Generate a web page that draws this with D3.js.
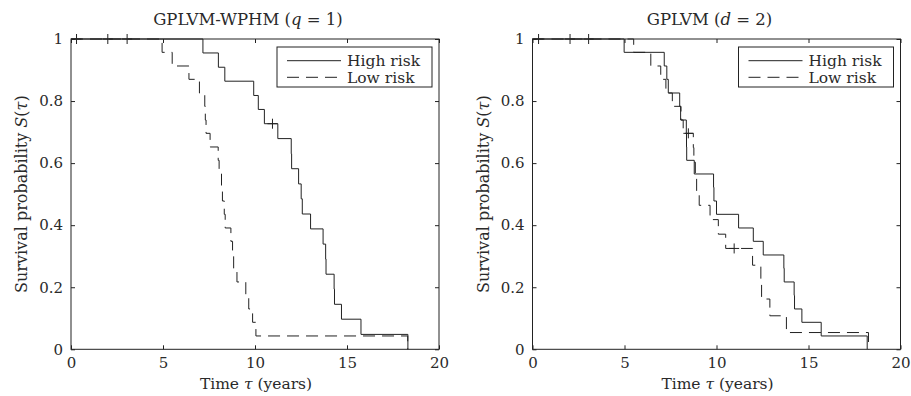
<!DOCTYPE html>
<html>
<head>
<meta charset="utf-8">
<script src="https://cdn.jsdelivr.net/npm/d3@7"></script>
<style>
  body { margin: 0; background: #fff; }
  text { font-family: "DejaVu Serif", "Liberation Serif", serif; fill: #2a2a2a; }
</style>
</head>
<body>
<svg id="chart" width="911" height="396"></svg>
<script>
// tick values
const timeTicks = [0, 5, 10, 15, 20];
const probTicks = [0, 0.2, 0.4, 0.6, 0.8, 1];
const legendLabels = ["High risk", "Low risk"];

// GPLVM-WPHM (q = 1)
const wphmHighTime = [0, 7.17, 8.01, 8.36, 9.93, 10.18, 10.51, 11.24, 11.97, 11.99, 12.37, 12.51, 12.57, 13.02, 13.70, 13.84, 13.86, 14.30, 14.32, 14.70, 15.76, 18.31];
const wphmHighSurv = [1, 0.955, 0.909, 0.864, 0.818, 0.773, 0.727, 0.679, 0.630, 0.582, 0.533, 0.485, 0.436, 0.388, 0.339, 0.291, 0.242, 0.194, 0.145, 0.097, 0.048, 0];
const wphmLowTime = [0, 4.95, 5.50, 6.41, 6.98, 7.27, 7.30, 7.34, 7.56, 8.00, 8.05, 8.18, 8.23, 8.33, 8.38, 8.69, 8.78, 8.84, 9.02, 9.50, 9.66, 9.87, 10.05, 18.30];
const wphmLowSurv = [1, 0.957, 0.913, 0.870, 0.826, 0.783, 0.739, 0.696, 0.652, 0.609, 0.565, 0.522, 0.478, 0.435, 0.391, 0.348, 0.304, 0.261, 0.217, 0.174, 0.130, 0.087, 0.043, 0];
const wphmCensorTime = [0.3, 2.0, 3.05, 10.95];
const wphmCensorSurv = [1, 1, 1, 0.727];

// GPLVM (d = 2)
const gplvmHighTime = [0, 4.98, 7.16, 7.30, 7.38, 8.00, 8.05, 8.36, 8.37, 8.38, 8.79, 9.84, 9.86, 10.00, 11.20, 12.00, 12.54, 13.66, 13.68, 14.22, 14.24, 14.64, 15.69, 18.19];
const gplvmHighSurv = [1, 0.957, 0.913, 0.870, 0.826, 0.783, 0.739, 0.696, 0.652, 0.609, 0.565, 0.522, 0.478, 0.435, 0.391, 0.348, 0.304, 0.261, 0.217, 0.174, 0.130, 0.087, 0.043, 0];
const gplvmLowTime = [0, 5.50, 6.43, 6.97, 7.25, 7.60, 8.07, 8.19, 8.74, 8.77, 8.85, 8.92, 9.06, 9.65, 10.10, 10.50, 11.96, 12.41, 12.45, 12.90, 13.80, 18.26];
const gplvmLowSurv = [1, 0.957, 0.913, 0.870, 0.826, 0.783, 0.739, 0.696, 0.650, 0.603, 0.557, 0.510, 0.464, 0.418, 0.371, 0.325, 0.271, 0.217, 0.162, 0.108, 0.054, 0];
const gplvmCensorTime = [0.33, 2.04, 3.05, 8.47, 10.96];
const gplvmCensorSurv = [1, 1, 1, 0.696, 0.325];

const panels = [
  { title: ["GPLVM-WPHM (", "q", " = 1)"], left: 71, high: [wphmHighTime, wphmHighSurv], low: [wphmLowTime, wphmLowSurv], cens: [wphmCensorTime, wphmCensorSurv] },
  { title: ["GPLVM (", "d", " = 2)"], left: 532.5, high: [gplvmHighTime, gplvmHighSurv], low: [gplvmLowTime, gplvmLowSurv], cens: [gplvmCensorTime, gplvmCensorSurv] }
];

const svg = d3.select("#chart");
const W = 368, yTop = 39, yBottom = 349.3;
const ink = "#222";
const dash = "12,7";

panels.forEach(p => {
  const x = d3.scaleLinear().domain([0, 20]).range([p.left, p.left + W]);
  const y = d3.scaleLinear().domain([0, 1]).range([yBottom, yTop]);
  const g = svg.append("g");

  const line = d3.line().x(d => x(d[0])).y(d => y(d[1])).curve(d3.curveStepAfter);
  const pts = arr => arr[0].map((t, i) => [t, arr[1][i]]);

  g.append("path").attr("d", line(pts(p.low))).attr("fill", "none")
    .attr("stroke", ink).attr("stroke-width", 1).attr("stroke-dasharray", dash);
  g.append("path").attr("d", line(pts(p.high))).attr("fill", "none")
    .attr("stroke", ink).attr("stroke-width", 1);

  // censoring marks
  pts(p.cens).forEach(d => {
    g.append("path")
      .attr("d", `M${x(d[0]) - 5},${y(d[1])}h10M${x(d[0])},${y(d[1]) - 5}v10`)
      .attr("stroke", ink).attr("stroke-width", 1);
  });

  // axes (ticks inside, all four sides)
  const tl = 4;
  g.append("g").attr("transform", `translate(0,${yBottom})`)
    .call(d3.axisBottom(x).tickValues(timeTicks).tickSizeInner(-tl).tickSizeOuter(0).tickPadding(8))
    .call(a => a.select(".domain").remove());
  g.append("g").attr("transform", `translate(0,${yTop})`)
    .call(d3.axisTop(x).tickValues(timeTicks).tickSizeInner(-tl).tickSizeOuter(0).tickFormat(""))
    .call(a => a.select(".domain").remove());
  g.append("g").attr("transform", `translate(${p.left},0)`)
    .call(d3.axisLeft(y).tickValues(probTicks).tickSizeInner(-tl).tickSizeOuter(0).tickPadding(8).tickFormat(d3.format("~g")))
    .call(a => a.select(".domain").remove());
  g.append("g").attr("transform", `translate(${p.left + W},0)`)
    .call(d3.axisRight(y).tickValues(probTicks).tickSizeInner(-tl).tickSizeOuter(0).tickFormat(""))
    .call(a => a.select(".domain").remove());
  g.selectAll(".tick line").attr("stroke", ink);
  g.selectAll(".tick text").attr("font-size", 15).attr("font-family", "DejaVu Serif").attr("fill", "#2a2a2a");

  g.append("rect").attr("x", p.left).attr("y", yTop).attr("width", W).attr("height", yBottom - yTop)
    .attr("fill", "none").attr("stroke", ink).attr("stroke-width", 1);

  // title
  const t = g.append("text").attr("x", p.left + W / 2 - 7).attr("y", 25)
    .attr("text-anchor", "middle").attr("font-size", 16.5);
  t.append("tspan").text(p.title[0]);
  t.append("tspan").attr("font-style", "italic").text(p.title[1]);
  t.append("tspan").text(p.title[2]);

  // x label
  const xl = g.append("text").attr("x", p.left + W / 2 + 1).attr("y", 389)
    .attr("text-anchor", "middle").attr("font-size", 15.5);
  xl.append("tspan").text("Time ");
  xl.append("tspan").attr("font-style", "italic").text("τ");
  xl.append("tspan").text(" (years)");

  // y label
  const yl = g.append("text").attr("transform", `translate(${p.left - 44},${(yTop + yBottom) / 2}) rotate(-90)`)
    .attr("text-anchor", "middle").attr("font-size", 16);
  yl.append("tspan").text("Survival probability ");
  yl.append("tspan").attr("font-style", "italic").text("S");
  yl.append("tspan").text("(");
  yl.append("tspan").attr("font-style", "italic").text("τ");
  yl.append("tspan").text(")");

  // legend
  const lg = g.append("g").attr("transform", `translate(${p.left + 206},47)`);
  lg.append("rect").attr("width", 155).attr("height", 40).attr("fill", "#fff").attr("stroke", ink);
  legendLabels.forEach((lab, i) => {
    const yy = 13.7 + i * 16.6;
    lg.append("line").attr("x1", 10).attr("x2", 64).attr("y1", yy).attr("y2", yy)
      .attr("stroke", ink).attr("stroke-dasharray", i ? dash : null);
    lg.append("text").attr("x", 70).attr("y", yy + 5.5).attr("font-size", 15.5).text(lab);
  });
});
</script>
</body>
</html>
